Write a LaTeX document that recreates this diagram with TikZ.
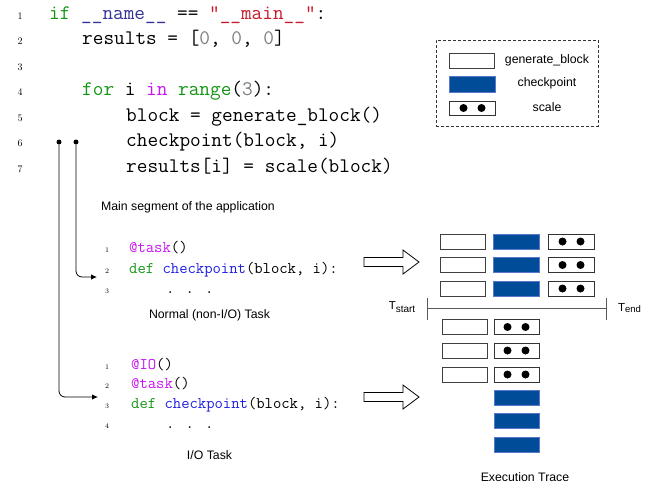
\documentclass[tikz,border=0pt]{standalone}
\usepackage{fontspec}
\newfontfamily\sansf{Liberation Sans}
\usetikzlibrary{arrows.meta}
\definecolor{cgreen}{RGB}{20,150,20}
\definecolor{cnavy}{RGB}{50,50,150}
\definecolor{cred}{RGB}{200,25,45}
\definecolor{cgray}{RGB}{125,125,125}
\definecolor{cmag}{RGB}{200,20,240}
\definecolor{cblue}{RGB}{30,30,225}
\definecolor{ckfill}{RGB}{0,76,153}
\definecolor{ckedge}{RGB}{90,120,200}
\begin{document}
\begin{tikzpicture}[x=1pt,y=-1pt,
  code/.style={anchor=base west,inner sep=0,font=\fontsize{20.7}{24}\selectfont\ttfamily},
  num/.style={anchor=base,inner sep=0,font=\fontsize{10}{11}\selectfont},
  codeb/.style={anchor=base west,inner sep=0,font=\fontsize{16.2}{19}\selectfont\ttfamily},
  numb/.style={anchor=base,inner sep=0,font=\fontsize{7}{8}\selectfont},
  lbl/.style={inner sep=0,font=\sansf\fontsize{12.3}{14}\selectfont},
  genbox/.style={draw=black!75,fill=white,line width=0.8pt,inner sep=0,minimum width=45,minimum height=15},
  ckbox/.style={draw=ckedge,fill=ckfill,line width=0.6pt,inner sep=0,minimum width=46,minimum height=15},
  sclbox/.style={draw=black!80,fill=white,line width=0.8pt,inner sep=0,minimum width=46,minimum height=15,
     path picture={\fill[black] ([xshift=-9pt]path picture bounding box.center) circle[radius=4pt];
                   \fill[black] ([xshift=9pt]path picture bounding box.center) circle[radius=4pt];}},
  dot/.style={circle,fill=black,inner sep=0,minimum size=5},
  conn/.style={line width=0.8pt,rounded corners=6,-{Latex[length=6pt,width=5.5pt]}},
  bigarrow/.style={draw=black,line width=0.8pt,fill=white},
  tl/.style={draw=black!65,line width=1pt}
]
\useasboundingbox (0,0) rectangle (649,483);

% ---------- top code ----------
\node[num] (n1) at (20,19) {1};
\node[num] (n2) at (20,44.5) {2};
\node[num] (n3) at (20,70) {3};
\node[num] (n4) at (20,95.5) {4};
\node[num] (n5) at (20,121) {5};
\node[num] (n6) at (20,146.5) {6};
\node[num] (n7) at (20,172) {7};
\node[code] (c1) at (49,19) {\textcolor{cgreen}{if} \textcolor{cnavy}{\_\_name\_\_} == \textcolor{cred}{"\_\_main\_\_"}:};
\node[code] (c2) at (82,44.5) {results = [\textcolor{cgray}{0}, \textcolor{cgray}{0}, \textcolor{cgray}{0}]};
\node[code] (c4) at (82,95.5) {\textcolor{cgreen}{for} i \textcolor{cmag}{in} \textcolor{cgreen}{range}(\textcolor{cgray}{3}):};
\node[code] (c5) at (126,121) {block = generate\_block()};
\node[code] (c6) at (126,146.5) {checkpoint(block, i)};
\node[code] (c7) at (126,172) {results[i] = scale(block)};

% ---------- connectors ----------
\node[dot] (d1) at (59,142) {};
\node[dot] (d2) at (76,142) {};
\coordinate (t1) at (98,397);
\coordinate (t2) at (97,277);
\draw[conn] (d1) |- (t1);
\draw[conn] (d2) |- (t2);

\node[lbl] (mainlbl) at (188,207) {Main segment of the application};

% ---------- normal task ----------
\node[numb] (a1) at (107,252) {1};
\node[numb] (a2) at (107,273) {2};
\node[numb] (a3) at (107,293) {3};
\node[codeb] (ac1) at (129,252) {\textcolor{cmag}{@task}()};
\node[codeb] (ac2) at (129,273) {\textcolor{cgreen}{def} \textcolor{cblue}{checkpoint}(block, i):};
\node[codeb] (ac3) at (166,293) {. . .};
\node[lbl] (normlbl) at (209.5,315) {Normal (non-I/O) Task};

% ---------- IO task ----------
\node[numb] (b1) at (107,369) {1};
\node[numb] (b2) at (107,388) {2};
\node[numb] (b3) at (107,408) {3};
\node[numb] (b4) at (107,428) {4};
\node[codeb] (bc1) at (131,369) {\textcolor{cmag}{@IO}()};
\node[codeb] (bc2) at (131,388) {\textcolor{cmag}{@task}()};
\node[codeb] (bc3) at (131,408) {\textcolor{cgreen}{def} \textcolor{cblue}{checkpoint}(block, i):};
\node[codeb] (bc4) at (166,428) {. . .};
\node[lbl] (iolbl) at (209.5,455) {I/O Task};

% ---------- hollow arrows ----------
\draw[bigarrow] (364,257.5) -- (403,257.5) -- (403,250) -- (419,262) -- (403,274) -- (403,266.5) -- (364,266.5) -- cycle;
\draw[bigarrow] (364,392.5) -- (403,392.5) -- (403,385) -- (419,397) -- (403,409) -- (403,401.5) -- (364,401.5) -- cycle;

% ---------- execution trace ----------
\node[genbox] (g1) at (462.5,241.5) {};
\node[ckbox]  (k1) at (516.5,241.5) {};
\node[sclbox] (s1) at (571.5,241.5) {};
\node[genbox] (g2) at (462.5,265) {};
\node[ckbox]  (k2) at (516.5,265) {};
\node[sclbox] (s2) at (571.5,265) {};
\node[genbox] (g3) at (462.5,288.5) {};
\node[ckbox]  (k3) at (516.5,288.5) {};
\node[sclbox] (s3) at (571.5,288.5) {};

\coordinate (ts) at (427,308);
\coordinate (te) at (606,308);
\draw[tl] (ts) -- (te);
\draw[tl] (427,298) -- (427,320);
\draw[tl] (606,298) -- (606,320);
\node[inner sep=0,font=\sansf\fontsize{11.5}{13}\selectfont] (tstart) at (402,307) {T\raisebox{-3pt}{\fontsize{10}{12}\selectfont start}};
\node[inner sep=0,font=\sansf\fontsize{11.5}{13}\selectfont] (tend) at (629.5,308) {T\raisebox{-1pt}{\fontsize{9.5}{11}\selectfont end}};

\node[genbox] (g4) at (464.5,327) {};
\node[sclbox,minimum width=45] (s4) at (516.5,327) {};
\node[genbox] (g5) at (464.5,350.5) {};
\node[sclbox,minimum width=45] (s5) at (516.5,350.5) {};
\node[genbox] (g6) at (464.5,374.5) {};
\node[sclbox,minimum width=45] (s6) at (516.5,374.5) {};
\node[ckbox,minimum width=45] (k4) at (516.5,397.5) {};
\node[ckbox,minimum width=45] (k5) at (516.5,420.5) {};
\node[ckbox,minimum width=45] (k6) at (516.5,444.5) {};
\node[lbl] (trlbl) at (525,477) {Execution Trace};

% ---------- legend ----------
\node[draw=black!80,densely dashed,line width=0.6pt,minimum width=162,minimum height=86,inner sep=0] (legend) at (517,83) {};
\node[genbox] (lg) at (471.5,60.5) {};
\node[ckbox,minimum height=16] (lk) at (472,84) {};
\node[sclbox,minimum height=14] (ls) at (472.5,108) {};
\node[lbl] (lgt) at (547,60) {generate\_block};
\node[lbl] (lkt) at (547,83) {checkpoint};
\node[lbl] (lst) at (547,107) {scale};
\end{tikzpicture}
\end{document}
